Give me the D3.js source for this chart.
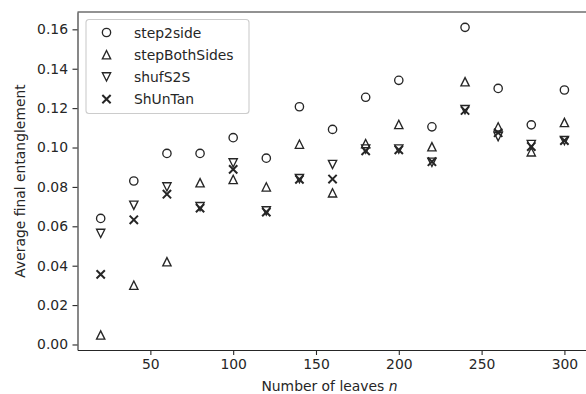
<!DOCTYPE html>
<html>
<head>
<meta charset="utf-8">
<script src="https://cdn.jsdelivr.net/npm/d3@7"></script>
<style>
  body { margin: 0; background: #fff; }
  svg { display: block; font-family: "DejaVu Sans", sans-serif; }
</style>
</head>
<body>
<div id="chart"></div>
<script>
// number of leaves
const leaves = [20, 40, 60, 80, 100, 120, 140, 160, 180, 200, 220, 240, 260, 280, 300];

// average final entanglement per method
const step2side     = [0.064, 0.083, 0.097, 0.097, 0.105, 0.0946, 0.1207, 0.1092, 0.1255, 0.1341, 0.1105, 0.161, 0.130, 0.1115, 0.1292];
const stepBothSides = [0.0048, 0.0301, 0.042, 0.0821, 0.0838, 0.080, 0.1017, 0.077, 0.102, 0.1117, 0.1004, 0.1334, 0.1105, 0.0978, 0.1127];
const shufS2S       = [0.0564, 0.0707, 0.080, 0.070, 0.0922, 0.0678, 0.0842, 0.0914, 0.0992, 0.0992, 0.0925, 0.1192, 0.1055, 0.1015, 0.1035];
const shUnTan       = [0.0356, 0.0633, 0.0763, 0.0692, 0.0889, 0.0672, 0.0838, 0.0840, 0.0983, 0.0988, 0.0928, 0.1188, 0.1075, 0.1005, 0.1035];

const seriesNames = ["step2side", "stepBothSides", "shufS2S", "ShUnTan"];
const seriesValues = [step2side, stepBothSides, shufS2S, shUnTan];
const markerTypes = ["circle", "up", "down", "x"];

const xTicks = [50, 100, 150, 200, 250, 300];
const yTicks = [0, 0.02, 0.04, 0.06, 0.08, 0.10, 0.12, 0.14, 0.16];

const W = 586, H = 394;
const ink = "#262626";
const ms = 8.3; // marker size in px

const svg = d3.select("#chart").append("svg")
  .attr("width", W)
  .attr("height", H);

const x = d3.scaleLinear().domain([6, 314]).range([77.5, 587.6]);
const y = d3.scaleLinear().domain([-0.0028, 0.1688]).range([350, 12]);

// draw a marker shape centered at (0,0)
function marker(g, type) {
  const h = ms / 2;
  if (type === "circle") {
    g.append("circle").attr("r", h)
      .attr("fill", "none").attr("stroke", ink).attr("stroke-width", 1.35);
  } else if (type === "up") {
    g.append("path").attr("d", `M0,${-h}L${-h},${h}L${h},${h}Z`)
      .attr("fill", "none").attr("stroke", ink).attr("stroke-width", 1.35)
      .attr("stroke-linejoin", "miter");
  } else if (type === "down") {
    g.append("path").attr("d", `M0,${h}L${-h},${-h}L${h},${-h}Z`)
      .attr("fill", "none").attr("stroke", ink).attr("stroke-width", 1.35)
      .attr("stroke-linejoin", "miter");
  } else {
    g.append("path").attr("d", `M${-h},${-h}L${h},${h}M${-h},${h}L${h},${-h}`)
      .attr("fill", "none").attr("stroke", ink).attr("stroke-width", 2);
  }
}

// axes
const xAxis = svg.append("g")
  .attr("transform", `translate(0,${y.range()[0]})`)
  .call(d3.axisBottom(x).tickValues(xTicks).tickSize(5).tickPadding(4.5).tickSizeOuter(0));

const yAxis = svg.append("g")
  .attr("transform", `translate(${x.range()[0]},0)`)
  .call(d3.axisLeft(y).tickValues(yTicks).tickFormat(d3.format(".2f")).tickSize(5).tickPadding(4.5).tickSizeOuter(0));

[xAxis, yAxis].forEach(a => {
  a.select(".domain").attr("stroke", ink).attr("stroke-width", 1.1);
  a.selectAll(".tick line").attr("stroke", ink).attr("stroke-width", 1.1);
  a.selectAll(".tick text").attr("fill", ink).style("font-size", "13.9px")
    .style("font-family", "DejaVu Sans");
});

// top spine
svg.append("line")
  .attr("x1", x.range()[0]).attr("x2", x.range()[1])
  .attr("y1", y.range()[1]).attr("y2", y.range()[1])
  .attr("stroke", ink).attr("stroke-width", 1.1);

// axis labels
const xLabel = svg.append("text")
  .attr("x", 329.5)
  .attr("y", 391)
  .attr("text-anchor", "middle")
  .attr("fill", ink)
  .style("font-size", "13.9px");
xLabel.append("tspan").text("Number of leaves ");
xLabel.append("tspan").attr("font-style", "italic").text("n");

svg.append("text")
  .attr("transform", `translate(25,${(y.range()[0] + y.range()[1]) / 2}) rotate(-90)`)
  .attr("text-anchor", "middle")
  .attr("fill", ink)
  .style("font-size", "13.9px")
  .text("Average final entanglement");

// points
seriesValues.forEach((vals, i) => {
  svg.append("g").selectAll("g")
    .data(leaves.map((n, j) => ({ n: n, v: vals[j] })))
    .join("g")
    .attr("transform", d => `translate(${x(d.n)},${y(d.v)})`)
    .each(function () { marker(d3.select(this), markerTypes[i]); });
});

// legend
const legend = svg.append("g").attr("transform", "translate(86,19.5)");
legend.append("rect")
  .attr("width", 163).attr("height", 94).attr("rx", 3)
  .attr("fill", "#fff").attr("fill-opacity", 0.8)
  .attr("stroke", "#cccccc").attr("stroke-width", 1.1);

seriesNames.forEach((name, i) => {
  const row = legend.append("g").attr("transform", `translate(0,${13 + i * 22.2})`);
  const m = row.append("g").attr("transform", "translate(20.5,0)");
  marker(m, markerTypes[i]);
  row.append("text")
    .attr("x", 48)
    .attr("dy", "0.36em")
    .attr("fill", ink)
    .style("font-size", "13.9px")
    .text(name);
});
</script>
</body>
</html>
